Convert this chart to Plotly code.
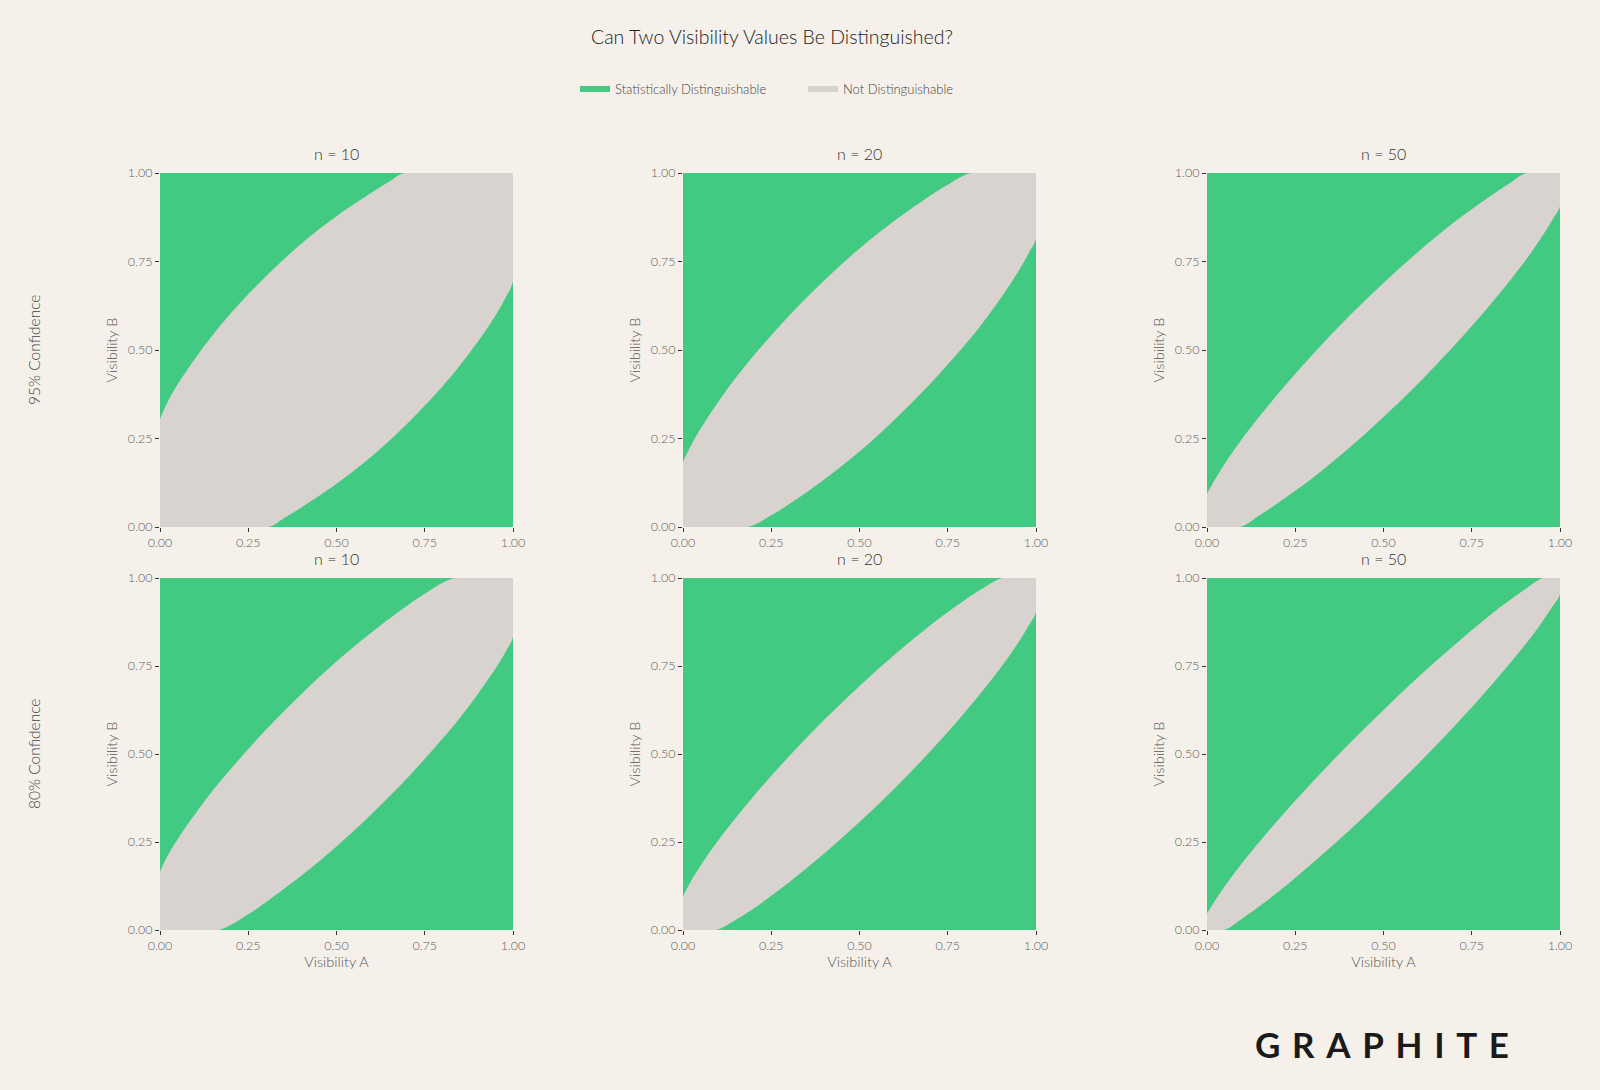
import plotly.graph_objects as go
from plotly.subplots import make_subplots

# panels: sample size per column, confidence level per row
sample_sizes = [10, 20, 50]
confidence_rows = ["95% Confidence", "80% Confidence"]

# upper edge of the "not distinguishable" band in each panel
# (Visibility A -> Visibility B).
# the lower edge is the same curve mirrored through (0.5, 0.5)
a_10_95 = [0.00, 0.02, 0.05, 0.10, 0.15, 0.20, 0.30, 0.40, 0.50, 0.60, 0.65, 0.693]
b_10_95 = [0.305, 0.350, 0.403, 0.477, 0.543, 0.603, 0.708, 0.800, 0.878, 0.945, 0.976, 1.00]

a_20_95 = [0.00, 0.02, 0.05, 0.10, 0.15, 0.20, 0.30, 0.40, 0.50, 0.60, 0.70, 0.75, 0.816]
b_20_95 = [0.184, 0.225, 0.278, 0.354, 0.422, 0.484, 0.596, 0.696, 0.787, 0.866, 0.936, 0.967, 1.00]

a_50_95 = [0.00, 0.02, 0.05, 0.10, 0.20, 0.30, 0.40, 0.50, 0.60, 0.70, 0.80, 0.85, 0.906]
b_50_95 = [0.094, 0.130, 0.178, 0.250, 0.375, 0.488, 0.593, 0.689, 0.779, 0.861, 0.933, 0.966, 1.00]

a_10_80 = [0.00, 0.02, 0.05, 0.10, 0.15, 0.20, 0.30, 0.40, 0.50, 0.60, 0.70, 0.75, 0.835]
b_10_80 = [0.166, 0.208, 0.258, 0.330, 0.397, 0.457, 0.569, 0.670, 0.763, 0.846, 0.921, 0.955, 1.00]

a_20_80 = [0.00, 0.02, 0.05, 0.10, 0.20, 0.30, 0.40, 0.50, 0.60, 0.70, 0.80, 0.85, 0.906]
b_20_80 = [0.095, 0.134, 0.183, 0.255, 0.380, 0.493, 0.597, 0.693, 0.783, 0.865, 0.939, 0.971, 1.00]

a_50_80 = [0.00, 0.02, 0.05, 0.10, 0.20, 0.30, 0.40, 0.50, 0.60, 0.70, 0.80, 0.90, 0.952]
b_50_80 = [0.047, 0.079, 0.124, 0.191, 0.311, 0.422, 0.526, 0.625, 0.720, 0.809, 0.893, 0.967, 1.00]

edges = [
    [(a_10_95, b_10_95), (a_20_95, b_20_95), (a_50_95, b_50_95)],
    [(a_10_80, b_10_80), (a_20_80, b_20_80), (a_50_80, b_50_80)],
]

tick_vals = [0, 0.25, 0.5, 0.75, 1.0]

GREEN = "#42C982"
GREY = "#D8D3CE"
BG = "#F5F1EA"
FONT = "Lato"

fig = make_subplots(rows=2, cols=3)

# pixel layout of the panels (figure is 1600 x 1090, no margins)
W, H = 1600, 1090
col_px = [(160, 513), (683, 1036), (1207, 1560)]
row_px = [(173, 527), (578, 930)]

# legend entry for the green area (the panel background is green)
fig.add_trace(go.Scatter(
    x=[None], y=[None], fill="toself", fillcolor=GREEN, mode="none",
    name="Statistically Distinguishable", legendrank=1, hoverinfo="skip"))

for r in range(2):
    for c in range(3):
        a, b = edges[r][c]
        lo_a = [1 - v for v in a]
        lo_b = [1 - v for v in b]

        # grey band between upper edge and mirrored lower edge
        fig.add_trace(go.Scatter(
            x=a + [1] + lo_a + [0], y=b + [1] + lo_b + [0],
            fill="toself", fillcolor=GREY, mode="none", line_shape="spline",
            name="Not Distinguishable", legendgroup="nd", legendrank=2,
            showlegend=(r == 0 and c == 0), hoverinfo="skip"),
            row=r + 1, col=c + 1)

        x0, x1 = col_px[c]
        y0, y1 = row_px[r]
        fig.update_xaxes(domain=[x0 / W, x1 / W], row=r + 1, col=c + 1)
        fig.update_yaxes(domain=[1 - y1 / H, 1 - y0 / H], row=r + 1, col=c + 1)

        # panel title
        fig.add_annotation(
            text=f"n = {sample_sizes[c]}", x=(x0 + x1) / 2 / W, y=1 - (y0 - 19) / H,
            xref="paper", yref="paper", showarrow=False,
            xanchor="center", yanchor="middle",
            font=dict(size=16, color="#333333", family=FONT, weight=300))

        if r == 1:
            fig.update_xaxes(title_text="Visibility A", row=r + 1, col=c + 1)

fig.update_xaxes(range=[0, 1], tickvals=tick_vals, tickformat=".2f",
                 ticks="outside", ticklen=4, tickcolor="#333333",
                 showgrid=False, zeroline=False, showline=False, automargin=False,
                 tickfont=dict(size=12.5, color="#5E5E5E", weight=300),
                 title_font=dict(size=14.5, color="#555555", weight=300),
                 title_standoff=4)
fig.update_yaxes(range=[0, 1], tickvals=tick_vals, tickformat=".2f",
                 ticks="outside", ticklen=4, tickcolor="#333333",
                 showgrid=False, zeroline=False, showline=False, automargin=False,
                 tickfont=dict(size=12.5, color="#5E5E5E", weight=300),
                 title_text="Visibility B",
                 title_font=dict(size=14.5, color="#555555", weight=300),
                 title_standoff=6)

# row labels
for r, label in enumerate(confidence_rows):
    y0, y1 = row_px[r]
    fig.add_annotation(
        text=label, x=34 / W, y=1 - (y0 + y1) / 2 / H,
        xref="paper", yref="paper", showarrow=False, textangle=-90,
        xanchor="center", yanchor="middle",
        font=dict(size=15.5, color="#444444", family=FONT, weight=300))

# main title
fig.add_annotation(
    text="Can Two Visibility Values Be Distinguished?", x=772 / W, y=1 - 36 / H,
    xref="paper", yref="paper", showarrow=False,
    xanchor="center", yanchor="middle",
    font=dict(size=19.5, color="#222222", family=FONT, weight=300))

# logo
fig.add_annotation(
    text="G\u2004R\u2004A\u2004P\u2004H\u2004I\u2004T\u2004E", x=1382 / W, y=1 - 1044 / H,
    xref="paper", yref="paper", showarrow=False,
    xanchor="center", yanchor="middle",
    font=dict(size=35, color="#1A1A1A", family="Lato", weight="bold"))

fig.update_layout(
    width=W, height=H,
    margin=dict(l=0, r=0, t=0, b=0),
    paper_bgcolor=BG, plot_bgcolor=GREEN,
    font=dict(family=FONT, color="#444444"),
    legend=dict(orientation="h", x=575 / W, y=1 - 89 / H,
                xanchor="left", yanchor="middle",
                font=dict(size=13, color="#444444", weight=300),
                bgcolor="rgba(0,0,0,0)", entrywidth=183),
)

fig.write_html("out.html", config={"displayModeBar": False},
               post_script="document.body.style.margin = '0';")
